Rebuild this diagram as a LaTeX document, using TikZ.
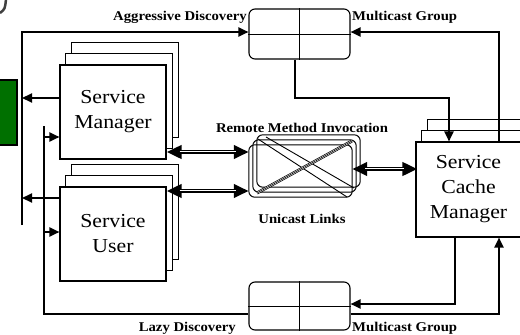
\documentclass[tikz,border=0pt]{standalone}
\usepackage{fontspec}
\setmainfont{Liberation Serif}[FakeStretch=1.1]
\usetikzlibrary{arrows.meta,backgrounds,calc}
\definecolor{dkgreen}{RGB}{0,112,0}
\newcommand\trilink[2]{%
  \draw[line width=4.6pt,{Triangle[length=15pt,width=13pt]}-{Triangle[length=15pt,width=13pt]}] #1 -- #2;
  \draw[line width=2.6pt,white,shorten <=13pt,shorten >=13pt] #1 -- #2;
  \draw[line width=0.9pt,shorten <=13pt,shorten >=13pt] #1 -- #2;}
\begin{document}
\begin{tikzpicture}[x=1pt,y=-1pt,
  page/.style={draw,fill=white,line width=1.1pt,minimum width=106pt,minimum height=94pt,
    inner sep=0pt,align=center,font=\fontsize{19.8}{25}\selectfont},
  backpage/.style={draw,fill=white,line width=1.1pt},
  conn/.style={line width=2pt},
  arr/.style={conn,-{Triangle[length=10pt,width=9pt]}},
  lbl/.style={font=\bfseries\fontsize{13.4}{16}\selectfont,inner sep=0pt},
  mbox/.style={draw,line width=1.1pt,rounded corners=6pt,minimum width=101pt,inner sep=0pt},
  rmiline/.style={line width=1pt,rounded corners=6pt},
]
\useasboundingbox (0,0) rectangle (520,335);
% corner fragment
\draw[line width=2.5pt,black!75] (0,13) .. controls (5,9) .. (6,-1);
% green box
\node[draw,fill=dkgreen,line width=1.1pt,minimum width=20pt,minimum height=65pt,inner sep=0pt] (grn) at (7,112.5) {};
% service boxes
\node[page] (smf) at (113,112) {Service\\Manager};
\node[page] (suf) at (113,234) {Service\\User};
\node[page,minimum width=105pt,minimum height=95pt] (scm) at (468.5,189.5) {Service\\Cache\\Manager};
\begin{scope}[on background layer]
  \foreach \n in {smf,suf,scm}{
    \draw[backpage] ([shift={(12,-22)}]\n.south west) rectangle ([shift={(12,-22)}]\n.north east);
    \draw[backpage] ([shift={(6,-11)}]\n.south west) rectangle ([shift={(6,-11)}]\n.north east);
  }
\end{scope}
% multicast boxes
\node[mbox,minimum height=50pt] (mtop) at (299.5,34) {};
\draw[line width=0.9pt] (mtop.north) -- (mtop.south) (mtop.west) -- (mtop.east);
\node[mbox,minimum height=48pt] (mbot) at (299.5,306) {};
\draw[line width=0.9pt] (mbot.north) -- (mbot.south) (mbot.west) -- (mbot.east);
% RMI box
\node[minimum width=103pt,minimum height=52pt,inner sep=0pt] (rmi) at (300.5,171) {};
\draw[rmiline] ([shift={(8,-10)}]rmi.south west) rectangle ([shift={(8,-10)}]rmi.north east);
\draw[rmiline] ([shift={(4,-5)}]rmi.south west) rectangle ([shift={(4,-5)}]rmi.north east);
\draw[rmiline] (rmi.south west) rectangle (rmi.north east);
\draw[line width=0.9pt] (258,139) -- (347,197) (266,137) -- (354,188);
\draw[line width=3pt] (257,193) -- (352,141);
\draw[line width=1.6pt,white] (257,193) -- (352,141);
\draw[line width=0.6pt] (257,193) -- (352,141);
% labels
\node[lbl,anchor=east] (agg) at (247,17) {Aggressive Discovery};
\node[lbl,anchor=west] (mgt) at (352,17) {Multicast Group};
\node[lbl] (rmil) at (302,128) {Remote Method Invocation};
\node[lbl] (ucl) at (302,219) {Unicast Links};
\node[lbl,anchor=east] (lzd) at (236,328) {Lazy Discovery};
\node[lbl,anchor=west] (mgb) at (352,328) {Multicast Group};
% aggressive discovery
\coordinate (tl) at (22,32);
\coordinate (lb) at (22,225);
\draw[arr] (lb) -- (tl) -- (tl -| mtop.west);
\draw[arr] (smf.west |- 0,98) -- (tl |- 0,98);
\draw[arr] (suf.west |- 0,198) -- (tl |- 0,198);
\draw[arr] (scm.north -| 499,0) |- (mtop.east |- tl);
\draw[arr] (mtop.south -| 295,0) |- (449,98) -- (scm.north -| 449,0);
% lazy discovery
\coordinate (lz) at (44,126);
\draw[conn] (lz) |- (mbot.west |- 0,314);
\draw[arr] (lz |- 0,137) -- (smf.west |- 0,137);
\draw[arr] (lz |- 0,232) -- (suf.west |- 0,232);
\draw[arr] (mbot.east |- 0,314) -| (scm.south -| 499,0);
\draw[arr] (scm.south -| 455,0) |- (mbot.east |- 0,304);
% unicast links
\trilink{(smf.east |- 0,152)}{(rmi.west |- 0,152)}
\trilink{(suf.east |- 0,191)}{(rmi.west |- 0,191)}
\trilink{(rmi.east |- 0,169)}{([xshift=2pt]scm.west |- 0,169)}
\end{tikzpicture}
\end{document}
